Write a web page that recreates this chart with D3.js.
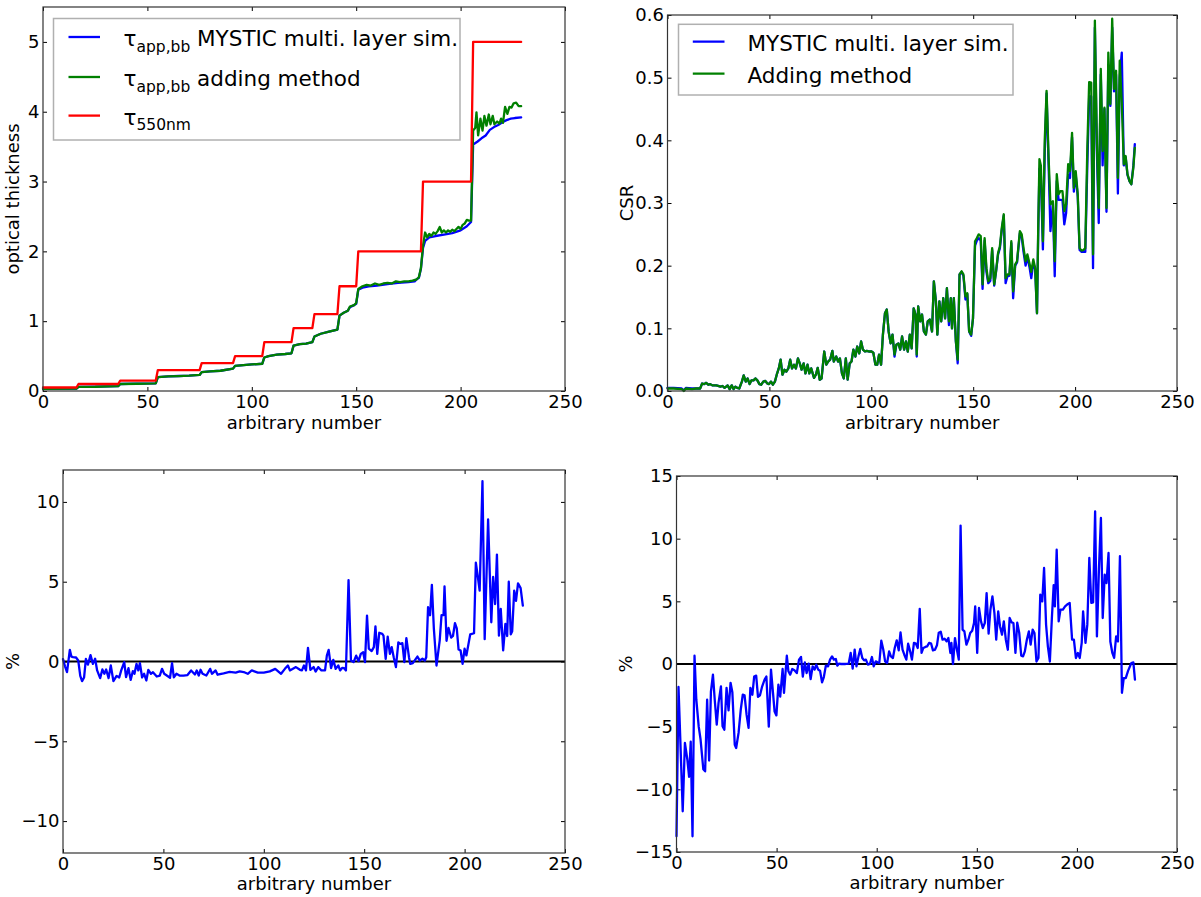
<!DOCTYPE html>
<html><head><meta charset="utf-8">
<script src="https://cdn.jsdelivr.net/npm/d3@7"></script>
<style>body{margin:0;background:#fff}svg{display:block}text{font-family:"DejaVu Sans",sans-serif;white-space:pre}</style>
</head><body><svg id="c" width="1201" height="897"></svg>
<script>
// ---------------- data ----------------
const xTicks = [0, 50, 100, 150, 200, 250];
const tauTicks = [0, 1, 2, 3, 4, 5];
const csrTicks = [0, 0.1, 0.2, 0.3, 0.4, 0.5, 0.6];
const diffTauTicks = [-10, -5, 0, 5, 10];
const diffCsrTicks = [-15, -10, -5, 0, 5, 10, 15];
const xLabel = "arbitrary number";

const tau550 = [[0,0.05],[16,0.05],[17,0.1],[36,0.1],[37,0.15],[54,0.15],[55,0.3],[75,0.3],[76,0.4],[91,0.4],[92,0.5],[105,0.5],[106,0.7],[119,0.7],[120,0.9],[129,0.9],[130,1.1],[141,1.1],[142,1.5],[150,1.5],[151,2.0],[181,2.0],[182,3.0],[205,3.0],[206,5.0],[229,5.0]];

const tauMystic = [[0,0.03],[16,0.035],[17,0.06],[25,0.062],[36,0.07],[37,0.1],[45,0.105],[54,0.11],[55,0.2],[60,0.21],[65,0.215],[70,0.22],[75,0.23],[76,0.27],[80,0.28],[85,0.29],[91,0.32],[92,0.36],[96,0.37],[100,0.38],[105,0.39],[106,0.48],[108,0.5],[112,0.52],[116,0.53],[119,0.54],[120,0.65],[123,0.67],[126,0.68],[129,0.7],[130,0.78],[133,0.82],[137,0.85],[141,0.88],[142,1.08],[144,1.12],[146,1.15],[147,1.2],[149,1.23],[150,1.25],[151,1.45],[153,1.48],[156,1.5],[160,1.51],[165,1.53],[170,1.55],[175,1.56],[178,1.57],[179,1.6],[180,1.62],[181,1.75],[182,2.05],[183,2.15],[185,2.2],[188,2.22],[192,2.24],[196,2.26],[200,2.3],[203,2.36],[205,2.42],[206,3.53],[208,3.57],[210,3.62],[212,3.66],[214,3.74],[216,3.78],[218,3.81],[220,3.85],[222,3.88],[224,3.9],[226,3.91],[229,3.92]];

const tauAdding = [[0,0.03],[16,0.034],[17,0.06],[25,0.061],[36,0.07],[37,0.1],[45,0.104],[54,0.11],[55,0.2],[60,0.21],[65,0.214],[70,0.22],[75,0.23],[76,0.27],[80,0.28],[85,0.29],[91,0.32],[92,0.36],[96,0.37],[100,0.38],[105,0.39],[106,0.48],[108,0.5],[112,0.52],[116,0.53],[119,0.54],[120,0.65],[123,0.67],[126,0.68],[129,0.7],[130,0.78],[133,0.82],[137,0.85],[141,0.88],[142,1.08],[144,1.12],[146,1.15],[147,1.21],[149,1.23],[150,1.26],[151,1.46],[153,1.5],[155,1.52],[157,1.51],[159,1.54],[161,1.52],[163,1.54],[165,1.55],[167,1.54],[169,1.57],[171,1.56],[173,1.57],[175,1.57],[177,1.58],[179,1.6],[180,1.63],[181,1.76],[182,2.08],[183,2.27],[184,2.2],[185,2.25],[186,2.22],[187,2.27],[188,2.25],[189,2.29],[190,2.35],[191,2.27],[192,2.3],[193,2.27],[194,2.3],[195,2.28],[196,2.31],[197,2.29],[198,2.32],[199,2.35],[200,2.32],[201,2.38],[202,2.4],[203,2.45],[204,2.44],[205,2.44],[206,3.73],[207,3.77],[207.6,3.99],[208.4,3.66],[209.5,3.9],[210.5,3.73],[211.4,3.94],[212.4,3.8],[213.5,3.96],[214.3,3.82],[215.4,3.94],[216.2,3.82],[217.5,3.86],[218.6,3.83],[219.4,3.9],[220.3,3.84],[221.3,4.07],[222.4,3.97],[223.4,4.07],[224.4,4.06],[225.4,4.12],[226.6,4.13],[227.8,4.08],[229,4.08]];

const csrAdding = [[0,0.004],[3,0.004],[7,0.003],[8,0],[9,0.004],[12,0.003],[14,0.004],[16,0.004],[17,0.012],[18,0.011],[19,0.013],[20,0.01],[21,0.011],[22,0.009],[24,0.009],[26,0.007],[27,0.008],[28,0.005],[29.5,0.009],[30.5,0.003],[31.5,0.009],[32.4,0.003],[33.3,0.007],[34.2,0.005],[35.2,0.004],[36.5,0.015],[37.4,0.025],[38.4,0.015],[39.3,0.02],[40.3,0.011],[41.2,0.017],[42.2,0.017],[43.1,0.02],[44.1,0.017],[45.1,0.011],[46,0.01],[47,0.015],[48,0.016],[49,0.012],[49.8,0.011],[50.8,0.015],[51.7,0.01],[52.7,0.015],[53.6,0.026],[54.6,0.036],[55.5,0.05],[56.4,0.026],[57.4,0.034],[58.3,0.031],[59.3,0.036],[60.2,0.05],[61.1,0.036],[62.1,0.042],[63,0.036],[64,0.052],[64.9,0.044],[65.8,0.034],[66.8,0.044],[67.7,0.028],[68.7,0.042],[69.6,0.028],[70.5,0.036],[71.9,0.021],[72.8,0.026],[73.7,0.037],[74.7,0.018],[75.6,0.02],[76.9,0.063],[77.9,0.042],[78.8,0.047],[79.8,0.05],[80.9,0.064],[81.6,0.047],[82.8,0.055],[83.7,0.047],[84.6,0.052],[85.6,0.028],[86.5,0.02],[87.5,0.052],[88.4,0.018],[89.4,0.044],[90.3,0.047],[91.2,0.066],[92.2,0.055],[93.1,0.071],[94.1,0.06],[95,0.079],[95.9,0.066],[96.9,0.063],[97.8,0.064],[99.1,0.063],[100.1,0.063],[101,0.061],[102,0.042],[102.9,0.042],[103.8,0.058],[104.8,0.042],[105.7,0.09],[106.7,0.124],[107.6,0.13],[108.5,0.095],[109.5,0.076],[110.4,0.09],[111.4,0.058],[112.3,0.074],[113.3,0.076],[114.2,0.066],[115.1,0.087],[116.1,0.066],[117,0.079],[117.9,0.063],[118.9,0.09],[119.8,0.068],[120.8,0.132],[121.7,0.122],[122.3,0.058],[123,0.135],[124,0.111],[124.9,0.122],[125.8,0.095],[126.8,0.09],[127.7,0.111],[128.7,0.114],[129.8,0.095],[130.7,0.175],[131.7,0.143],[132.4,0.09],[133.4,0.143],[134.3,0.111],[135.3,0.148],[136.2,0.116],[137.1,0.164],[138.1,0.111],[139,0.148],[139.6,0.1],[140.5,0.148],[141.5,0.079],[142.4,0.05],[143.3,0.186],[144.3,0.191],[145.2,0.186],[146.2,0.151],[147.1,0.156],[148,0.095],[149,0.09],[149.9,0.116],[150.9,0.239],[151.8,0.244],[152.7,0.25],[153.7,0.247],[154.6,0.17],[155.6,0.244],[156.5,0.196],[157.4,0.175],[158.4,0.18],[159.3,0.228],[160.3,0.17],[161.2,0.191],[162.2,0.22],[163.1,0.231],[164,0.26],[165,0.282],[165.9,0.18],[166.8,0.186],[167.8,0.186],[168.7,0.239],[169.6,0.159],[170.6,0.202],[171.5,0.207],[172.9,0.255],[173.8,0.25],[174.7,0.228],[175.7,0.207],[176.6,0.218],[177.6,0.204],[178.5,0.19],[179.5,0.21],[180.4,0.196],[181.3,0.124],[181.9,0.26],[182.5,0.37],[183.2,0.36],[184.2,0.239],[185.1,0.4],[186,0.479],[187,0.372],[187.9,0.298],[189.1,0.303],[190,0.207],[191,0.346],[191.9,0.314],[192.8,0.319],[193.8,0.319],[194.7,0.287],[195.6,0.298],[196.6,0.362],[197.5,0.351],[198.5,0.412],[199.4,0.324],[200.3,0.351],[201.3,0.314],[202.2,0.228],[203.2,0.224],[204.1,0.225],[205,0.228],[206,0.388],[206.9,0.493],[207.9,0.492],[208.8,0.218],[209.7,0.591],[210.7,0.394],[211.6,0.292],[212.6,0.514],[213.5,0.383],[214.4,0.452],[215.4,0.292],[216.3,0.54],[217.3,0.458],[218.2,0.594],[219.1,0.482],[220.1,0.511],[221,0.34],[221.9,0.527],[222.9,0.46],[223.9,0.362],[224.8,0.375],[225.7,0.346],[226.7,0.335],[227.6,0.33],[228.6,0.357],[229.3,0.388]];

const csrMystic = [[0,0.005],[3,0.005],[7,0.004],[8,0.001],[9,0.005],[12,0.004],[14,0.004],[16,0.004],[17,0.012],[18,0.011],[19,0.013],[20,0.01],[21,0.011],[22,0.009],[24,0.009],[26,0.007],[27,0.008],[28,0.005],[29.5,0.009],[30.5,0.003],[31.5,0.009],[32.4,0.003],[33.3,0.007],[34.2,0.005],[35.2,0.004],[36.5,0.015],[37.4,0.025],[38.4,0.015],[39.3,0.02],[40.3,0.011],[41.2,0.017],[42.2,0.017],[43.1,0.02],[44.1,0.017],[45.1,0.011],[46,0.01],[47,0.015],[48,0.016],[49,0.012],[49.8,0.011],[50.8,0.015],[51.7,0.01],[52.7,0.015],[53.6,0.026],[54.6,0.036],[55.5,0.05],[56.4,0.026],[57.4,0.034],[58.3,0.031],[59.3,0.036],[60.2,0.05],[61.1,0.036],[62.1,0.042],[63,0.036],[64,0.052],[64.9,0.044],[65.8,0.034],[66.8,0.044],[67.7,0.028],[68.7,0.042],[69.6,0.028],[70.5,0.036],[71.9,0.021],[72.8,0.026],[73.7,0.037],[74.7,0.018],[75.6,0.02],[76.9,0.063],[77.9,0.042],[78.8,0.047],[79.8,0.05],[80.9,0.064],[81.6,0.047],[82.8,0.055],[83.7,0.047],[84.6,0.052],[85.6,0.028],[86.5,0.02],[87.5,0.052],[88.4,0.018],[89.4,0.044],[90.3,0.047],[91.2,0.066],[92.2,0.055],[93.1,0.071],[94.1,0.06],[95,0.079],[95.9,0.066],[96.9,0.063],[97.8,0.064],[99.1,0.063],[100.1,0.063],[101,0.061],[102,0.042],[102.9,0.042],[103.8,0.058],[104.8,0.042],[105.7,0.09],[106.7,0.124],[107.6,0.13],[108.5,0.095],[109.5,0.076],[110.4,0.09],[111.4,0.055],[112.3,0.074],[113.3,0.076],[114.2,0.066],[115.1,0.087],[116.1,0.066],[117,0.079],[117.9,0.063],[118.9,0.09],[119.8,0.068],[120.8,0.132],[121.7,0.122],[122.3,0.055],[123,0.135],[124,0.111],[124.9,0.122],[125.8,0.095],[126.8,0.09],[127.7,0.111],[128.7,0.114],[129.8,0.095],[130.7,0.175],[131.7,0.143],[132.4,0.09],[133.4,0.143],[134.3,0.111],[135.3,0.148],[136.2,0.116],[137.1,0.164],[138.1,0.105],[139,0.148],[139.6,0.1],[140.5,0.148],[141.5,0.079],[142.4,0.044],[143.3,0.186],[144.3,0.19],[145.2,0.184],[146.2,0.146],[147.1,0.155],[148,0.095],[149,0.088],[149.9,0.116],[150.9,0.232],[151.8,0.24],[152.7,0.244],[153.7,0.24],[154.6,0.163],[155.6,0.24],[156.5,0.19],[157.4,0.172],[158.4,0.176],[159.3,0.225],[160.3,0.168],[161.2,0.19],[162.2,0.218],[163.1,0.228],[164,0.256],[165,0.28],[165.9,0.172],[166.8,0.183],[167.8,0.184],[168.7,0.236],[169.6,0.148],[170.6,0.2],[171.5,0.205],[172.9,0.252],[173.8,0.246],[174.7,0.222],[175.7,0.2],[176.6,0.214],[177.6,0.198],[178.5,0.18],[179.5,0.205],[180.4,0.194],[181.3,0.124],[181.9,0.25],[182.5,0.355],[183.2,0.345],[184.2,0.226],[185.1,0.38],[186,0.475],[187,0.36],[187.9,0.255],[189.1,0.3],[190,0.183],[191,0.335],[191.9,0.305],[192.8,0.305],[193.8,0.305],[194.7,0.266],[195.6,0.284],[196.6,0.345],[197.5,0.34],[198.5,0.405],[199.4,0.318],[200.3,0.345],[201.3,0.31],[202.2,0.225],[203.2,0.222],[204.1,0.222],[205,0.222],[206,0.36],[206.9,0.47],[207.9,0.47],[208.8,0.196],[209.7,0.58],[210.7,0.38],[211.6,0.268],[212.6,0.505],[213.5,0.36],[214.4,0.45],[215.4,0.286],[216.3,0.52],[217.3,0.455],[218.2,0.58],[219.1,0.478],[220.1,0.505],[221,0.315],[221.9,0.5],[222.9,0.54],[223.9,0.36],[224.8,0.373],[225.7,0.345],[226.7,0.335],[227.6,0.33],[228.6,0.36],[229.3,0.394]];

const diffTau = [[0,0.15],[1,-0.3],[2,-0.67],[3.4,0.73],[4.2,0.3],[5,0.27],[6.5,0.25],[7.6,0.06],[8.6,-0.9],[9.5,-1.23],[10.5,-1.0],[11.4,0.17],[12.4,-0.2],[13.7,0.4],[14.9,-0.15],[16,0.17],[17,-0.56],[18.5,-1.04],[19.6,-0.5],[20.6,-0.77],[21.5,-0.5],[22.7,-1.04],[23.8,-0.25],[25.1,-1.23],[26.7,-0.9],[28,-1.0],[29,-0.56],[30.5,-0.04],[31.4,-0.98],[32.6,-0.42],[33.7,-1.15],[34.8,-0.6],[35.6,-0.77],[36.6,-0.15],[37.5,-0.56],[38.3,-0.1],[39.4,-1.0],[40.4,-0.77],[41.5,-1.19],[42.5,-0.52],[43.8,-0.77],[44.8,-0.67],[46.7,-0.94],[48.2,-0.88],[49.3,-0.46],[50.4,-0.77],[52.4,-0.94],[53.3,-1.02],[54.3,-0.1],[55.2,-1.0],[56.5,-0.77],[58,-0.88],[60,-0.88],[62,-0.85],[63.8,-0.56],[65.7,-0.81],[66.6,-0.56],[67.6,-0.88],[68.5,-0.52],[69.5,-0.77],[71.4,-0.88],[73.3,-0.46],[74.2,-0.77],[76,-0.56],[77,-0.83],[80,-0.75],[83,-0.65],[86,-0.7],[88,-0.62],[90,-0.66],[92,-0.77],[94,-0.56],[97,-0.7],[100,-0.7],[103,-0.62],[105.7,-0.46],[108.6,-0.77],[110.5,-0.46],[112,-0.25],[113,-0.56],[116,-0.35],[118,-0.52],[119,-0.56],[120,-0.25],[121,-0.56],[122,0.85],[123.2,-0.52],[124.8,-0.35],[125.8,-0.63],[127.1,-0.35],[128.7,-0.56],[130.5,-0.56],[131.4,0.37],[132.3,0.73],[133.5,-0.42],[134.6,0.1],[135.8,-0.46],[137.1,-0.25],[138,-0.56],[139,-0.4],[140,-0.42],[140.9,-0.56],[142.2,5.1],[143.4,0.06],[144.7,-0.04],[146,0.37],[147.2,0.02],[148.3,0.48],[149.5,0.58],[150.4,-0.04],[151.4,2.88],[152.3,0.8],[153.7,0.65],[154.8,0.9],[155.6,2.2],[156.5,0.48],[157.5,1.8],[159,1.73],[159.6,1.62],[160.7,0.17],[161.7,1.56],[162.8,0.48],[163.7,0.9],[164.7,0.27],[165.8,-0.35],[167,1.2],[168,1.1],[169,1.15],[170,-0.04],[171,1.46],[172.3,0.27],[172.9,-0.15],[174.2,-0.1],[175.7,0.17],[176.5,0.31],[177.7,0.06],[179,0.17],[180.2,0.06],[180.9,0.27],[181.8,3.4],[182.8,2.9],[183.7,4.8],[184.7,2.04],[186,-0.25],[187.6,1.31],[188.5,2.9],[189.5,2.9],[190,4.7],[191,1.3],[192,2.1],[193.3,1.5],[194.2,1.6],[195.2,2.4],[196.1,2.08],[197,0.75],[198,0.69],[199,-0.15],[200,0.8],[200.9,0.38],[202.8,1.7],[204.7,1.77],[205.6,6.2],[206.6,5.3],[207.5,4.44],[208.9,11.3],[210,1.4],[211.7,8.9],[213.3,2.46],[214.2,5.3],[215.2,3.6],[216.1,6.7],[217.1,1.62],[218,3.3],[219.2,0.7],[220.3,2.35],[221.2,1.6],[222,5.0],[223,1.7],[223.7,1.9],[224.7,4.44],[225.6,3.8],[226.6,4.9],[227.9,4.6],[229,3.5]];

const diffCsr = [[0,-13.75],[1,-1.83],[1.9,-6],[3.1,-11.75],[4.2,-6.3],[5.4,-7.6],[6.3,-9],[7.1,-6.2],[8,-13.75],[9,0.66],[9.9,-2.85],[11.1,-5],[12,-6],[13.4,-8.4],[14.3,-8.56],[15.3,-2.85],[16.3,-7.7],[17.2,-2.2],[18.2,-0.85],[19.1,-2.85],[20.1,-4.84],[21,-3.1],[22.2,-1.78],[23,-4.97],[23.9,-5.24],[25,-1.9],[26,-3.7],[27,-1.5],[27.9,-2.25],[29.1,-6.44],[29.8,-6.7],[31,-5.5],[32.1,-3.64],[33.1,-2.45],[34,-2.5],[35,-4.04],[36,-5.1],[36.9,-1.9],[37.9,-2.45],[38.8,-1],[39.8,-0.93],[40.7,-2.63],[41.7,-2.5],[42.8,-1.78],[44,-1.25],[44.9,-1],[46.1,-5],[47.2,-0.45],[48.2,-2.3],[49,-3.8],[49.9,-4.1],[50.9,-1.65],[51.8,-2.6],[53,-0.4],[53.7,-2.3],[55.1,0.66],[55.9,-0.58],[56.8,-0.85],[57.8,-0.4],[58.9,-0.5],[60.1,-0.72],[61.2,0.35],[62.2,0.56],[63.1,-1],[64.1,0.13],[65,-0.72],[66,0.03],[67,-1.2],[68,-0.19],[69,-0.45],[69.8,-0.05],[70.8,-0.45],[71.7,-0.53],[72.7,-1.46],[73.6,-1.04],[74.6,-0.13],[75.7,-0.19],[76.7,0.35],[77.7,0.61],[78.6,0.35],[79.6,0.4],[80.3,-0.13],[81.2,0.03],[82.2,0],[84,0],[86,0.03],[87,0.88],[88,-0.37],[89,1.14],[89.9,-0.19],[90.9,0.61],[91.8,1.2],[92.8,0.48],[93.7,0.29],[94.6,0.35],[95.6,-0.05],[96.6,0],[97.6,0.56],[98.5,-0.19],[99.5,0.21],[100.4,0.13],[101.3,0.08],[102.3,1.86],[103.3,1.14],[104.2,0.21],[105.2,0.08],[106.2,1],[107.1,0.61],[108.1,0.48],[109,1.28],[110,1.89],[111,1.09],[111.9,2.53],[112.9,1.14],[113.8,0.74],[114.8,0.35],[115.7,1.62],[116.7,1.01],[117.6,0.35],[118.6,1.68],[119.6,1.62],[120.5,1.28],[121.5,4.4],[122.4,0.88],[123.3,1.28],[124.3,1.36],[125.2,1.41],[126.2,1.68],[127.2,1.62],[128.1,1.09],[129.1,1.14],[130.1,1.49],[131,2.5],[132,2.58],[132.9,1.94],[133.9,2.02],[134.9,1.81],[135.8,2.07],[136.8,0.88],[137.3,1.68],[138.1,0],[139.1,2.07],[140,1.2],[141,0.35],[141.9,11.04],[142.9,2.74],[143.8,2.6],[144.8,1.54],[145.8,1.94],[146.7,2.47],[147.7,2.66],[148.6,3.27],[149.2,4.6],[150.2,0.88],[151.1,4.47],[152.1,3.4],[153,2.87],[154,3.27],[154.9,5.66],[155.9,2.42],[156.8,4.34],[157.8,5.4],[158.8,4.06],[159.7,1.94],[160.7,4.2],[161.6,3],[162.6,2.34],[163.5,3.4],[164.5,1.94],[165.5,1.14],[166.4,3.67],[167.4,3.32],[168.3,3.27],[169.3,0.88],[170.2,3.3],[171.2,2.47],[172.2,0.66],[173.1,0.61],[174,1.01],[175,1.94],[176,2.6],[176.9,1.54],[177.9,2.74],[178.8,2.47],[179.8,0.2],[180.8,0.48],[181.7,5.53],[182.7,5],[183.6,7.66],[184.6,3.14],[185.5,1.41],[186.5,0.2],[187.5,3.67],[188.4,6.3],[189,4.6],[189.9,9.12],[190.9,3.4],[191.8,4.34],[193,4.34],[194.1,4.6],[195.1,4.74],[196.4,4.87],[197.6,1.94],[198.5,1.94],[199.5,0.48],[200.5,0.88],[201.4,0.48],[202.4,1.68],[203.1,4.2],[204.3,1.68],[205.2,3.14],[206.2,8.46],[207.2,4.87],[208.1,4.92],[209.1,12.18],[210,2.2],[211,7.53],[212,11.65],[212.9,3.67],[213.9,7.13],[214.8,6.46],[215.8,8.86],[216.7,1.8],[217.7,0.88],[218.6,0.48],[219.6,2.2],[220.5,1.8],[221.5,8.6],[222.5,-2.3],[223.4,-1.12],[224.4,-1.12],[225.6,-0.53],[227.2,0.08],[228.2,0.13],[229,-1.25]];

// ---------------- layout ----------------
const svg = d3.select("#c");
const FONT = "DejaVu Sans, sans-serif";
const TICK_FS = 18;
const LW = 2.3;

function panel(cfg) {
  const g = svg.append("g").attr("transform", `translate(${cfg.left},${cfg.top})`);
  const x = d3.scaleLinear().domain([0, 250]).range([0, cfg.w]);
  const y = d3.scaleLinear().domain(cfg.yDomain).range([cfg.h, 0]);

  const styleAxis = sel => {
    sel.select(".domain").remove();
    sel.attr("font-size", TICK_FS).attr("font-family", FONT);
    sel.selectAll(".tick line").attr("stroke", "#000").attr("stroke-width", 1);
    sel.selectAll(".tick text").attr("fill", "#000");
  };
  g.append("g").attr("transform", `translate(0,${cfg.h})`)
    .call(d3.axisBottom(x).tickValues(xTicks).tickSize(-4).tickPadding(4).tickFormat(d3.format("d"))).call(styleAxis);
  g.append("g")
    .call(d3.axisTop(x).tickValues(xTicks).tickSize(-4).tickFormat("")).call(styleAxis);
  g.append("g")
    .call(d3.axisLeft(y).tickValues(cfg.yTicks).tickSize(-4).tickPadding(3.5).tickFormat(cfg.yFmt)).call(styleAxis);
  g.append("g").attr("transform", `translate(${cfg.w},0)`)
    .call(d3.axisRight(y).tickValues(cfg.yTicks).tickSize(-4).tickFormat("")).call(styleAxis);

  if (cfg.zero) {
    g.append("line").attr("x1", x(0)).attr("x2", x(250)).attr("y1", y(0)).attr("y2", y(0))
      .attr("stroke", "#000").attr("stroke-width", 2);
  }
  const line = d3.line().x(d => x(d[0])).y(d => y(d[1]));
  cfg.series.forEach(s => {
    g.append("path").datum(s.data).attr("d", line).attr("fill", "none")
      .attr("stroke", s.color).attr("stroke-width", LW).attr("stroke-linejoin", "round").attr("stroke-linecap", "round");
  });

  g.append("rect").attr("x", 0).attr("y", 0).attr("width", cfg.w).attr("height", cfg.h)
    .attr("fill", "none").attr("stroke", "#333").attr("stroke-width", 1.2);

  g.append("text").attr("x", cfg.w / 2).attr("y", cfg.h + cfg.xLabelDy).attr("text-anchor", "middle")
    .attr("font-size", TICK_FS).attr("font-family", FONT).text(xLabel);
  g.append("text").attr("transform", `translate(${cfg.yLabelX},${cfg.h / 2}) rotate(-90)`)
    .attr("text-anchor", "middle").attr("font-size", TICK_FS).attr("font-family", FONT).text(cfg.yLabel);

  if (cfg.legend) {
    const L = cfg.legend;
    g.append("rect").attr("x", L.x).attr("y", L.y).attr("width", L.w).attr("height", L.h)
      .attr("fill", "#fff").attr("stroke", "#b0b0b0").attr("stroke-width", 1.5);
    L.items.forEach((it, i) => {
      const off = L.offs[i];
      const ly = L.lineY0 + off;
      g.append("line").attr("x1", L.lx1).attr("x2", L.lx2).attr("y1", ly).attr("y2", ly)
        .attr("stroke", it.color).attr("stroke-width", LW);
      const t = g.append("text").attr("x", L.tx).attr("y", L.textY0 + off)
        .attr("font-size", 21.5).attr("font-family", FONT).attr("fill", "#000");
      if (it.sym) {
        t.append("tspan").text(it.sym);
        t.append("tspan").attr("font-size", 15.5).attr("dy", 5.5).text(it.sub);
        if (it.text) t.append("tspan").attr("dy", -5.5).text(" " + it.text);
      } else {
        t.text(it.text);
      }
    });
  }
}

panel({
  left: 43, top: 7, w: 522, h: 384, yDomain: [0, 5.5], yTicks: tauTicks, yFmt: d3.format("d"),
  yLabel: "optical thickness", yLabelX: -24, xLabelDy: 37.5,
  series: [{data: tauMystic, color: "#0000ff"}, {data: tauAdding, color: "#008000"}, {data: tau550, color: "#ff0000"}],
  legend: {x: 10.5, y: 11.5, w: 406.5, h: 121.5, lx1: 25.5, lx2: 57, tx: 80.5, lineY0: 30, textY0: 39, offs: [0, 40, 78.6],
    items: [{sym: "τ", sub: "app,bb", text: "MYSTIC multi. layer sim.", color: "#0000ff"},
            {sym: "τ", sub: "app,bb", text: "adding method", color: "#008000"},
            {sym: "τ", sub: "550nm", text: "", color: "#ff0000"}]}
});

panel({
  left: 667.5, top: 15, w: 509.5, h: 376, yDomain: [0, 0.6], yTicks: csrTicks, yFmt: d3.format(".1f"),
  yLabel: "CSR", yLabelX: -35, xLabelDy: 37.5,
  series: [{data: csrMystic, color: "#0000ff"}, {data: csrAdding, color: "#008000"}],
  legend: {x: 11, y: 9.3, w: 334.5, h: 70.7, lx1: 25.3, lx2: 57, tx: 80, lineY0: 26.7, textY0: 35.7, offs: [0, 32],
    items: [{text: "MYSTIC multi. layer sim.", color: "#0000ff"},
            {text: "Adding method", color: "#008000"}]}
});

panel({
  left: 63, top: 470, w: 502, h: 383, yDomain: [-12, 12], yTicks: diffTauTicks, yFmt: d3.format("d"),
  yLabel: "%", yLabelX: -44, xLabelDy: 37,
  series: [{data: diffTau, color: "#0000ff"}], zero: true
});

panel({
  left: 676.5, top: 476, w: 500.5, h: 376, yDomain: [-15, 15], yTicks: diffCsrTicks, yFmt: d3.format("d"),
  yLabel: "%", yLabelX: -45, xLabelDy: 37,
  series: [{data: diffCsr, color: "#0000ff"}], zero: true
});
</script>
</body></html>
